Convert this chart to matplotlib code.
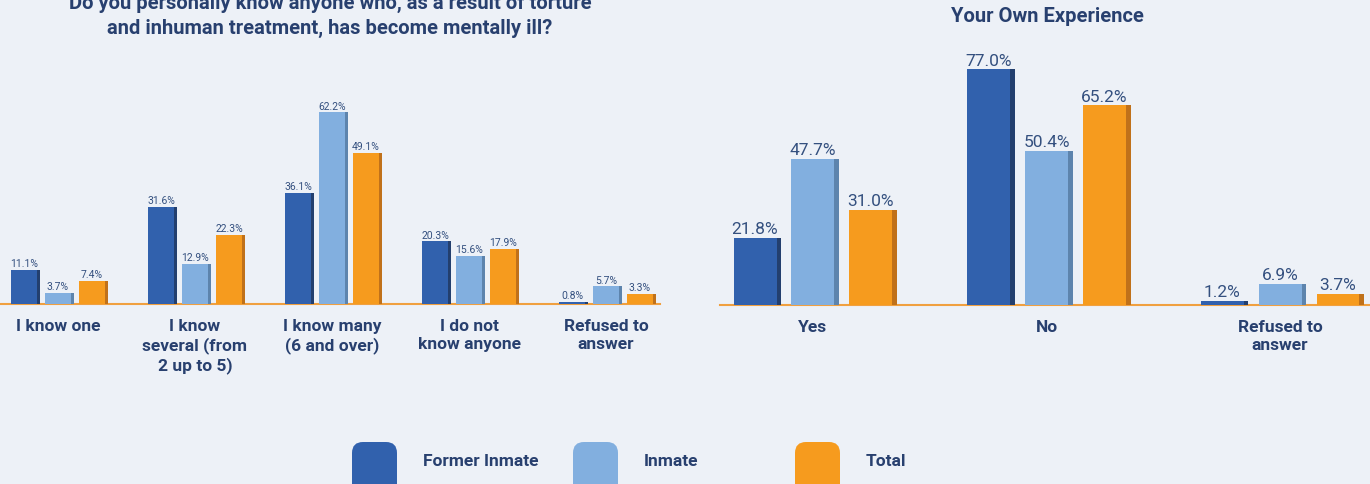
import numpy as np
import matplotlib.pyplot as plt
from matplotlib.patches import FancyBboxPatch

# survey answers, percent
know_cats = ['I know one', 'I know\nseveral (from\n2 up to 5)', 'I know many\n(6 and over)',
             'I do not\nknow anyone', 'Refused to\nanswer']
know_former = [11.1, 31.6, 36.1, 20.3, 0.8]
know_inmate = [3.7, 12.9, 62.2, 15.6, 5.7]
know_total = [7.4, 22.3, 49.1, 17.9, 3.3]

exp_cats = ['Yes', 'No', 'Refused to\nanswer']
exp_former = [21.8, 77.0, 1.2]
exp_inmate = [47.7, 50.4, 6.9]
exp_total = [31.0, 65.2, 3.7]

series_names = ['Former Inmate', 'Inmate', 'Total']
colors = ['#3161ad', '#82afdf', '#f69b1e']
side_colors = ['#233f6e', '#5d84ad', '#c0711a']
navy = '#28406f'
label_col = '#34507f'

W, H = 1370, 485
fig = plt.figure(figsize=(W / 100, H / 100), dpi=100)
fig.patch.set_facecolor('#edf1f7')
plt.rcParams['font.family'] = ['Roboto', 'DejaVu Sans']


def px_axes(x0, x1, y_base, height):
    return fig.add_axes([x0 / W, (H - y_base) / H, (x1 - x0) / W, height / H])


def draw_group(ax, cats, data, width, step, val_size, side_w):
    x = np.arange(len(cats))
    for i, vals in enumerate(data):
        xs = x + (i - 1) * step
        ax.bar(xs, vals, width=width, color=colors[i], zorder=3)
        ax.bar(xs + width / 2 + side_w / 2, vals, width=side_w, color=side_colors[i], zorder=3)
        for xi, v in zip(xs, vals):
            ax.text(xi, v + 0.6, f'{v:.1f}%', ha='center', va='bottom',
                    fontsize=val_size, color=label_col, zorder=4)
    ax.set_xticks(x)
    ax.set_xticklabels(cats, fontsize=12.5, fontweight='bold', color=navy, linespacing=1.25)
    ax.tick_params(axis='x', length=0, pad=10)
    ax.set_yticks([])
    for s in ['top', 'right', 'left']:
        ax.spines[s].set_visible(False)
    ax.spines['bottom'].set_color('#f0a040')
    ax.spines['bottom'].set_linewidth(1.5)
    ax.set_facecolor('none')


# left chart
ax1 = px_axes(0, 660, 305, 70 * 3.08)
draw_group(ax1, know_cats, [know_former, know_inmate, know_total], 0.19, 0.248, 7.5, 0.022)
ax1.set_xlim(-0.423, 4.394)
ax1.set_ylim(0, 70)

# right chart
ax2 = px_axes(720, 1370, 306, 85 * 3.06)
draw_group(ax2, exp_cats, [exp_former, exp_inmate, exp_total], 0.184, 0.248, 12.5, 0.02)
ax2.set_xlim(-0.398, 2.385)
ax2.set_ylim(0, 85)

fig.text(330 / W, 1 - 3 / H, 'Do you personally know anyone who, as a result of torture',
         ha='center', va='center', fontsize=14.5, fontweight='bold', color=navy)
fig.text(330 / W, 1 - 28 / H, 'and inhuman treatment, has become mentally ill?',
         ha='center', va='center', fontsize=14.5, fontweight='bold', color=navy)
fig.text(1047 / W, 1 - 17 / H, 'Your Own Experience',
         ha='center', va='center', fontsize=14.5, fontweight='bold', color=navy)

# legend
for x0, name, c in zip([352, 573, 795], series_names, colors):
    fig.patches.append(FancyBboxPatch((x0 / W, (H - 500) / H), 45 / W, 57 / H,
                                      boxstyle='round,pad=0,rounding_size=0.008',
                                      mutation_aspect=W / H,
                                      transform=fig.transFigure, color=c, ec='none'))
    fig.text((x0 + 71) / W, 1 - 462 / H, name, ha='left', va='center',
             fontsize=12.5, fontweight='bold', color=navy)

fig.savefig('out.png', dpi=100, facecolor=fig.get_facecolor())
